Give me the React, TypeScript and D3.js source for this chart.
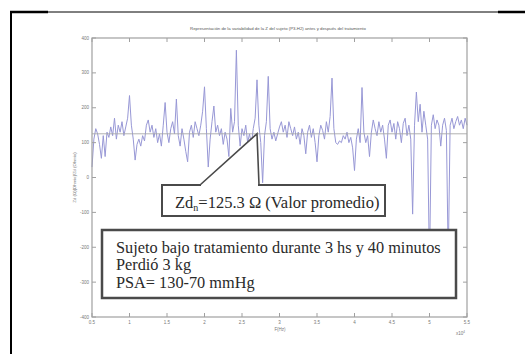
import { useMemo } from 'react';
import * as d3 from 'd3';

const freqStart = 0.5;
const freqStep = 0.025;
const zdValues = [
  30, 110, 140, 125, 95, 55, 120, 60, 130, 115,
  145, 120, 170, 110, 150, 130, 160, 120, 145, 170,
  235, 150, 110, 50, 95, 110, 90, 120, 105, 150,
  165, 130, 150, 115, 140, 100, 125, 90, 150, 215,
  130, 100, 140, 160, 125, 225, 120, 90, 140, 110,
  75, 45, 130, 150, 115, 160, 140, 120, 150, 190,
  260, 140, 30, 110, 160, 205, 130, 150, 120, 140,
  95, 130, 110, 60, 198, 130, 160, 365, 150, 90,
  140, 120, 150, 100, 125, 95, 140, 170, 280, 150,
  100, -15, 120, 160, 290, 140, 110, 130, 105, 125,
  145, 160, 130, 150, 115, 160, 140, 120, 145, 110,
  130, 95, 140, 120, 68, 130, 150, 115, 140, 100,
  45, 120, 150, 135, 110, 160, 130, 175, 285, 140,
  100, 95, 105, 100, 120, 110, 130, 100, 115, 85,
  20, 110, 140, 100, 258, 130, 100, 120, 60, 130,
  165, 140, 120, 160, 130, 150, 110, 55, 150, 165,
  130, 155, 110, 160, 140, 100, 155, 170, 120, 150,
  110, -105, 150, 245, 160, 210, 130, 190, 150, 110,
  -260, 150, 180, 140, 165, 150, 90, 150, 170, 135,
  -240, 150, 170, 140, 160, 175, 150, 165, 140, 170,
  150,
];
const meanValue = 125.3;
const calloutFreq = 2.7;

const xTicks = [0.5, 1, 1.5, 2, 2.5, 3, 3.5, 4, 4.5, 5, 5.5];
const yTicks = [-400, -300, -200, -100, 0, 100, 200, 300, 400];

const titleText = 'Representación de la variabilidad de la Z del sujeto (P3-H2) antes y después del tratamiento';
const yLabel = 'Zd (Ω)[Ohmio]/Zd (Ohmio)';
const xLabel = 'F(Hz)';
const infoLines = [
  'Sujeto bajo tratamiento durante 3 hs y 40 minutos',
  'Perdió 3 kg',
  'PSA= 130-70 mmHg',
];

const W = 525;
const H = 354;
const plot = { left: 92, right: 467, top: 38, bottom: 317 };
const axisColor = '#a0a0a0';
const tickFont = "'Liberation Sans', Arial, sans-serif";
const serif = "'Liberation Serif', 'DejaVu Serif', serif";

const App = () => {
  const x = useMemo(() => d3.scaleLinear().domain([0.5, 5.5]).range([plot.left, plot.right]), []);
  const y = useMemo(() => d3.scaleLinear().domain([-400, 400]).range([plot.bottom, plot.top]), []);

  const line = d3.line<number>()
    .x((_, i) => x(freqStart + i * freqStep))
    .y(d => y(d));

  const tipX = x(calloutFreq);
  const tipY = y(meanValue);

  return (
    <div style={{ position: 'absolute', left: 0, top: 0 }}>
      <svg width={W} height={H} style={{ display: 'block', background: '#fff' }}>
        {/* outer page frame */}
        <line x1={11} y1={12} x2={11} y2={H} stroke="#000" strokeWidth={2} />
        <line x1={10} y1={12} x2={48} y2={12} stroke="#000" strokeWidth={2.5} />
        <line x1={48} y1={12} x2={498} y2={12} stroke="#000" strokeWidth={1} />
        <line x1={498} y1={12} x2={W} y2={12} stroke="#000" strokeWidth={2.5} />

        <text x={278} y={30} textAnchor="middle" fontSize={4.3} fill="#555" style={{ fontFamily: tickFont }}>{titleText}</text>

        {/* data */}
        <path d={line(zdValues) ?? ''} fill="none" stroke="#9898d6" strokeWidth={1} strokeLinejoin="round" />
        <line x1={plot.left} x2={plot.right} y1={y(meanValue)} y2={y(meanValue)} stroke="#a8a8a8" strokeWidth={0.9} />

        {/* axes box */}
        <rect x={plot.left} y={plot.top} width={plot.right - plot.left} height={plot.bottom - plot.top}
          fill="none" stroke={axisColor} strokeWidth={1.2} />
        {xTicks.map(t => (
          <g key={'x' + t}>
            <line x1={x(t)} x2={x(t)} y1={plot.bottom} y2={plot.bottom - 4} stroke={axisColor} />
            <line x1={x(t)} x2={x(t)} y1={plot.top} y2={plot.top + 4} stroke={axisColor} />
            <text x={x(t)} y={plot.bottom + 7} textAnchor="middle" fontSize={4.5} fill="#777" style={{ fontFamily: tickFont }}>{t}</text>
          </g>
        ))}
        {yTicks.map(t => (
          <g key={'y' + t}>
            <line x1={plot.left} x2={plot.left + 4} y1={y(t)} y2={y(t)} stroke={axisColor} />
            <line x1={plot.right} x2={plot.right - 4} y1={y(t)} y2={y(t)} stroke={axisColor} />
            <text x={plot.left - 3} y={y(t) + 1.5} textAnchor="end" fontSize={4.5} fill="#777" style={{ fontFamily: tickFont }}>{t}</text>
          </g>
        ))}
        <text x={280} y={331} textAnchor="middle" fontSize={4.5} fill="#777" style={{ fontFamily: tickFont }}>{xLabel}</text>
        <text x={456} y={335} fontSize={4.5} fill="#777" style={{ fontFamily: tickFont }}>x10<tspan dy={-2} fontSize={3}>4</tspan></text>
        <text transform={`translate(76,${(plot.top + plot.bottom) / 2}) rotate(-90)`} textAnchor="middle"
          fontSize={4.3} fill="#777" style={{ fontFamily: tickFont }}>{yLabel}</text>

        {/* callout for the mean value */}
        <path d={`M200,186 L${tipX},${tipY} L${tipX + 2},186 Z`} fill="#fff" stroke="none" />
        <rect x={162} y={185} width={223} height={31} fill="#fff" stroke="#4a4a4a" strokeWidth={2} />
        <rect x={201} y={183.5} width={tipX + 1 - 201} height={3} fill="#fff" />
        <path d={`M200,185 L${tipX},${tipY} L${tipX + 2},185`} fill="none" stroke="#4a4a4a" strokeWidth={1.6} />
        <text x={175} y={207.5} fontSize={16.5} fill="#2a2a2a" style={{ fontFamily: serif }}>
          Zd<tspan dy={3} fontSize={10}>n</tspan><tspan dy={-3}>=125.3 Ω (Valor promedio)</tspan>
        </text>

        {/* treatment info */}
        <rect x={102} y={230} width={354} height={68} fill="#fff" stroke="#4a4a4a" strokeWidth={2.5} />
        {infoLines.map((s, i) => (
          <text key={s} x={116} y={252.5 + i * 17.5} fontSize={16.3} fill="#2a2a2a" style={{ fontFamily: serif }}>{s}</text>
        ))}
      </svg>
    </div>
  );
};

export default App;
